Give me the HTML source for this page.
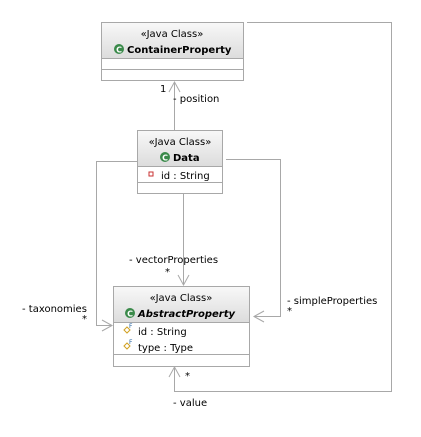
<!DOCTYPE html>
<html><head><style>
body{margin:0;background:#fff;}
svg text{font-family:"DejaVu Sans","Liberation Sans",sans-serif;font-size:10px;fill:#000;}
</style></head><body>
<svg width="421" height="432" viewBox="0 0 421 432" xmlns="http://www.w3.org/2000/svg">
<defs>
<linearGradient id="g" x1="0" y1="0" x2="0" y2="1"><stop offset="0" stop-color="#f8f8f8"/><stop offset="1" stop-color="#dcdcdc"/></linearGradient>
</defs>
<g fill="none" stroke="#a8a8a8" stroke-width="1">
<!-- position -->
<path d="M174.5 130V82"/><path d="M169 92L174.5 82L180 92"/>
<!-- value loop -->
<path d="M247 22.5H391.5V391.5H174.5V367"/><path d="M169 377L174.5 367L180 377"/>
<!-- taxonomies -->
<path d="M137 161.5H96.5V325.5H112"/><path d="M102 320L112 325.5L102 331"/>
<!-- simple -->
<path d="M226 159.5H280.5V316.5H254"/><path d="M264 311L254 316.5L264 322"/>
<!-- vector -->
<path d="M183.5 194V285"/><path d="M178 275L183.5 285L189 275"/>
</g>
<!-- ContainerProperty -->
<rect x="101.5" y="22.5" width="142" height="36" fill="url(#g)" stroke="#a8a8a8"/>
<rect x="101.5" y="58.5" width="142" height="22" fill="#fff" stroke="#a8a8a8"/>
<line x1="101.5" y1="69.5" x2="243.5" y2="69.5" stroke="#a8a8a8"/>
<text x="172" y="37" text-anchor="middle" font-size="9">«Java Class»</text>
<circle cx="119" cy="49" r="5" fill="#3a8a4a"/><text x="119" y="52.5" text-anchor="middle" style="font-size:8px;fill:#fff;font-weight:bold">C</text>
<text x="127" y="53" style="font-weight:bold">ContainerProperty</text>
<!-- Data -->
<rect x="137.5" y="130.5" width="85" height="36" fill="url(#g)" stroke="#a8a8a8"/>
<rect x="137.5" y="166.5" width="85" height="27" fill="#fff" stroke="#a8a8a8"/>
<line x1="137.5" y1="182.5" x2="222.5" y2="182.5" stroke="#a8a8a8"/>
<text x="180" y="145" text-anchor="middle" font-size="9">«Java Class»</text>
<circle cx="165" cy="157" r="5" fill="#3a8a4a"/><text x="165" y="160.5" text-anchor="middle" style="font-size:8px;fill:#fff;font-weight:bold">C</text>
<text x="173" y="161" style="font-weight:bold">Data</text>
<rect x="149" y="172" width="4" height="4" fill="#fff" stroke="#c83030"/>
<text x="161" y="179">id : String</text>
<!-- AbstractProperty -->
<rect x="113.5" y="286.5" width="136" height="36" fill="url(#g)" stroke="#a8a8a8"/>
<rect x="113.5" y="322.5" width="136" height="44" fill="#fff" stroke="#a8a8a8"/>
<line x1="113.5" y1="354.5" x2="249.5" y2="354.5" stroke="#a8a8a8"/>
<text x="181" y="301" text-anchor="middle" font-size="9">«Java Class»</text>
<circle cx="130" cy="313" r="5" fill="#3a8a4a"/><text x="130" y="316.5" text-anchor="middle" style="font-size:8px;fill:#fff;font-weight:bold">C</text>
<text x="138" y="317" style="font-weight:bold;font-style:italic">AbstractProperty</text>
<path d="M127 327l3 3-3 3-3-3z" fill="#fff" stroke="#d0a020"/><text x="129" y="328" style="font-size:6px;fill:#2060a0">F</text>
<text x="138" y="335">id : String</text>
<path d="M127 343l3 3-3 3-3-3z" fill="#fff" stroke="#d0a020"/><text x="129" y="344" style="font-size:6px;fill:#2060a0">F</text>
<text x="138" y="351">type : Type</text>
<!-- labels -->
<text x="160" y="92">1</text>
<text x="173" y="102">- position</text>
<text x="129" y="263">- vectorProperties</text>
<text x="165" y="275">*</text>
<text x="22" y="312">- taxonomies</text>
<text x="82" y="322">*</text>
<text x="287" y="304">- simpleProperties</text>
<text x="287" y="314">*</text>
<text x="185" y="379">*</text>
<text x="173" y="406">- value</text>
</svg>
</body></html>
